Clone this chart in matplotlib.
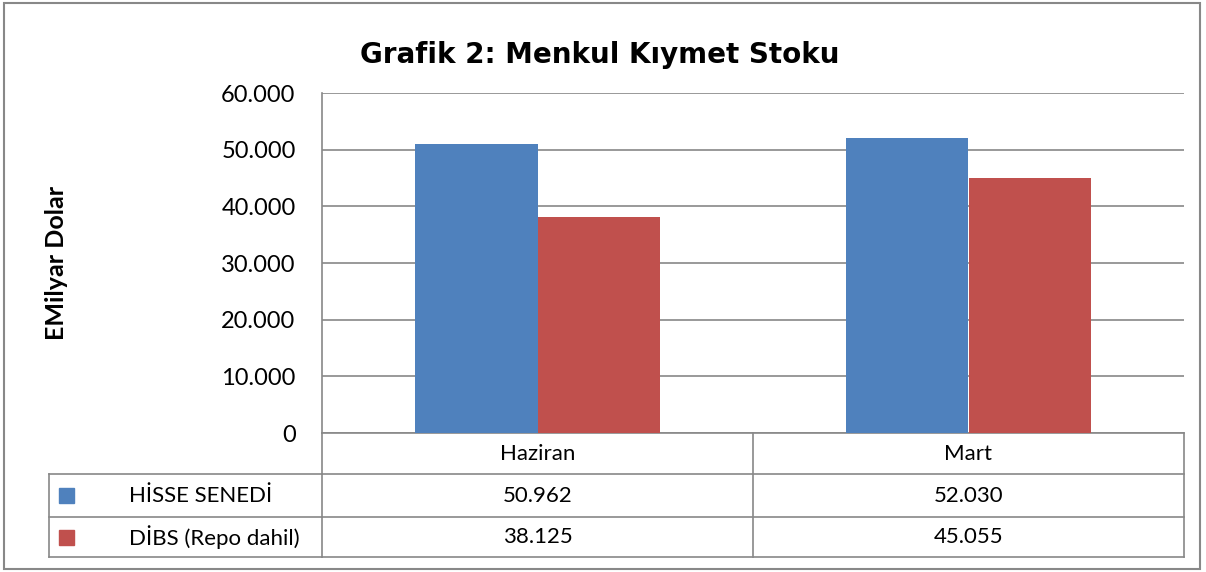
import matplotlib
matplotlib.use("Agg")
import matplotlib.pyplot as plt
from matplotlib.patches import Rectangle
from matplotlib.transforms import blended_transform_factory

plt.rcParams["font.family"] = ["Lato", "DejaVu Sans"]

categories = ["Haziran", "Mart"]
series_names = ["HİSSE SENEDİ", "DİBS (Repo dahil)"]
hisse = [50962, 52030]
dibs = [38125, 45055]
colors = ["#4F81BD", "#C0504D"]
yticks = [0, 10000, 20000, 30000, 40000, 50000, 60000]


def fmt(v):
    # Turkish thousands separator
    return f"{v:,}".replace(",", ".")


W, H = 1206, 572
fig = plt.figure(figsize=(W / 100, H / 100), dpi=100)

# plot area in pixel coords
left, right, top, bottom = 322, 1184, 93, 433
ax = fig.add_axes([left / W, 1 - bottom / H, (right - left) / W, (bottom - top) / H])

grid_c = "#888888"
bw = 0.285
x = range(len(categories))
for i, (vals, c) in enumerate(zip([hisse, dibs], colors)):
    ax.bar([xi + (i - 0.5) * bw for xi in x], vals, width=bw, color=c, zorder=3)

ax.set_xlim(-0.5, len(categories) - 0.5)
ax.set_ylim(0, 60000)
ax.set_yticks(yticks)
ax.set_yticklabels([fmt(v) for v in yticks], fontsize=17)
ax.set_xticks([])
ax.grid(axis="y", color=grid_c, lw=1.2, zorder=0)
ax.tick_params(axis="y", length=0, pad=19)
for s in ["top", "right", "bottom"]:
    ax.spines[s].set_visible(False)
ax.spines["left"].set_color(grid_c)
ax.spines["left"].set_linewidth(1.2)

ax.set_ylabel("EMilyar Dolar", fontsize=18, fontweight="bold")
ax.yaxis.set_label_coords(-(left - 56) / (right - left), 0.5)
ax.yaxis.label.set_va("center")

# data table below the axes
ph = bottom - top
rows = [0, -(474 - bottom) / ph, -(517 - bottom) / ph, -(557 - bottom) / ph]
tab_left = -(left - 49) / (right - left)
tr = blended_transform_factory(ax.transData, ax.transAxes)
lkw = dict(color=grid_c, lw=1.2, clip_on=False)

# horizontal lines
ax.plot([-0.5, len(categories) - 0.5], [rows[0]] * 2, transform=tr, **lkw)
for r in rows[1:]:
    ax.plot([0, 1], [r, r], transform=ax.transAxes, **lkw)
    ax.plot([tab_left, 0], [r, r], transform=ax.transAxes, **lkw)
# vertical lines
for b in [i - 0.5 for i in range(len(categories) + 1)]:
    ax.plot([b, b], [rows[0], rows[-1]], transform=tr, **lkw)
ax.plot([tab_left, tab_left], [rows[1], rows[-1]], transform=ax.transAxes, **lkw)

for i, cat in enumerate(categories):
    ax.text(i, (rows[0] + rows[1]) / 2, cat, transform=tr, ha="center", va="center", fontsize=16)

for j, (name, vals, c) in enumerate(zip(series_names, [hisse, dibs], colors)):
    yc = (rows[j + 1] + rows[j + 2]) / 2
    ax.add_patch(Rectangle((-(left - 59) / (right - left), yc - 7.5 / ph), 15 / (right - left), 15 / ph,
                           transform=ax.transAxes, color=c, clip_on=False))
    ax.text(-(left - 129) / (right - left), yc, name, transform=ax.transAxes, ha="left", va="center", fontsize=16)
    for i, v in enumerate(vals):
        ax.text(i, yc, fmt(v), transform=tr, ha="center", va="center", fontsize=16)

fig.text(600 / W, 1 - 63 / H, "Grafik 2: Menkul Kıymet Stoku", ha="center", va="baseline",
         fontsize=20, fontweight="bold", family="DejaVu Sans")

fig.patches.append(Rectangle((4 / W, 3 / H), (1200 - 4) / W, (569 - 3) / H, transform=fig.transFigure,
                             fill=False, edgecolor=grid_c, lw=1.5))

fig.savefig("out.png", dpi=100)
